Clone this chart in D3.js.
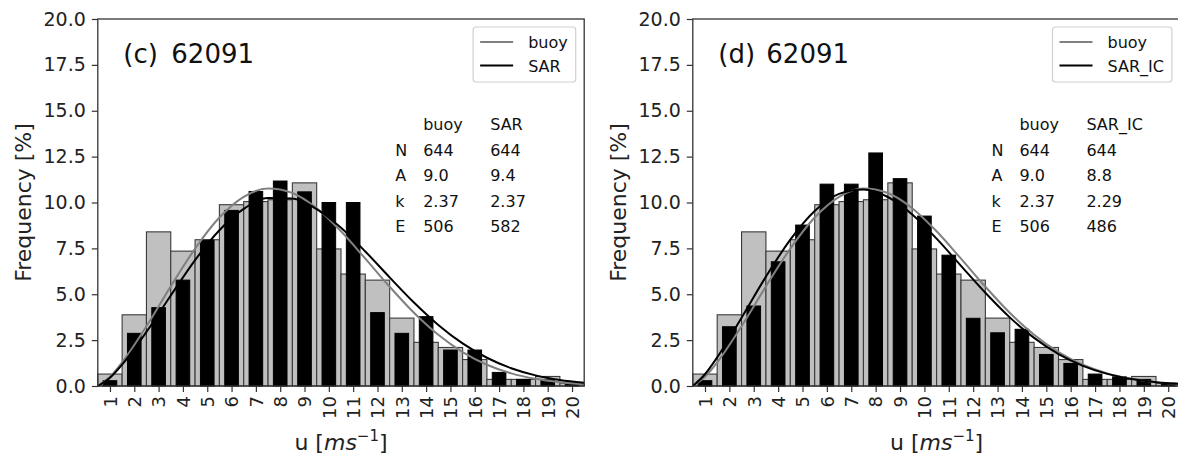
<!DOCTYPE html>
<html>
<head>
<meta charset="utf-8">
<script src="https://cdn.jsdelivr.net/npm/d3@7/dist/d3.min.js"></script>
<style>
    body { margin: 0; background: #fff; }
    svg { display: block; font-family: 'DejaVu Sans', sans-serif; }
</style>
</head>
<body>
<div id="chart"></div>
<script>
'use strict';
//bin labels on the x axis (bin k covers [k-1, k])
var binLabels = [1, 2, 3, 4, 5, 6, 7, 8, 9, 10, 11, 12, 13, 14, 15, 16, 17, 18, 19, 20];
var yTicks = [0, 2.5, 5, 7.5, 10, 12.5, 15, 17.5, 20];

//histogram frequencies [%]
var buoyPct = [0.65, 3.88, 8.4, 7.35, 7.97, 9.88, 10.05, 10.15, 11.07, 7.47, 6.1, 5.77, 3.7, 2.38, 2.1, 1.44, 0.36, 0.36, 0.52, 0.15];
var sarPct = [0.29, 2.87, 4.27, 5.77, 7.95, 9.57, 10.6, 11.17, 10.58, 10.0, 10.0, 4.0, 2.87, 3.78, 1.96, 1.96, 0.74, 0.36, 0.34, 0.15];
var sarIcPct = [0.29, 3.23, 4.36, 6.77, 8.77, 11.0, 11.0, 12.7, 11.3, 9.26, 7.13, 3.69, 2.9, 3.09, 1.72, 1.23, 0.65, 0.5, 0.36, 0.15];

//fitted curves
var fitX = [0, 0.5, 1, 2, 3, 4, 5, 6, 7, 8, 9, 10, 11, 12, 13, 14, 15, 16, 17, 18, 19, 20];
var buoyFit = [0, 0.50, 1.29, 3.26, 5.43, 7.49, 9.18, 10.31, 10.76, 10.52, 9.69, 8.43, 6.94, 5.41, 3.99, 2.79, 1.85, 1.16, 0.69, 0.39, 0.21, 0.10];
var sarFit = [0, 0.45, 1.17, 2.95, 4.93, 6.86, 8.49, 9.65, 10.24, 10.22, 9.64, 8.62, 7.33, 5.92, 4.55, 3.33, 2.32, 1.54, 0.97, 0.58, 0.33, 0.18];
var sarIcFit = [0, 0.64, 1.56, 3.72, 5.96, 7.98, 9.54, 10.47, 10.71, 10.30, 9.35, 8.03, 6.55, 5.08, 3.74, 2.62, 1.74, 1.10, 0.66, 0.38, 0.21, 0.11];

//statistics table
var statNames = ['N', 'A', 'k', 'E'];
var buoyStats = ['644', '9.0', '2.37', '506'];
var sarStats = ['644', '9.4', '2.37', '582'];
var sarIcStats = ['644', '8.8', '2.29', '486'];

var width = 1178,
    height = 459,
    svg = d3.select('#chart').append('svg')
        .attr('width', width)
        .attr('height', height);

var panels = [
    {left: 97.8, right: 584.2, tag: '(c)', name: 'SAR', pct: sarPct, fit: sarFit, stats: sarStats},
    {left: 692.8, right: 1180.4, tag: '(d)', name: 'SAR_IC', pct: sarIcPct, fit: sarIcFit, stats: sarIcStats}
];

var y = d3.scaleLinear().domain([0, 20]).range([386, 19]);

var drawPanel = function (p) {
    var x = d3.scaleLinear().domain([0, 20]).range([p.left, p.right]),
        g = svg.append('g'),
        line = d3.line()
            .x(function (d, i) { return x(fitX[i]); })
            .y(function (d) { return y(d); })
            .curve(d3.curveMonotoneX);

    //buoy bars, full bin width
    g.selectAll('.buoy')
        .data(buoyPct)
        .enter().append('rect')
        .attr('class', 'buoy')
        .attr('x', function (d, i) { return x(i); })
        .attr('width', function (d, i) { return x(i + 1) - x(i); })
        .attr('y', function (d) { return y(d); })
        .attr('height', function (d) { return y(0) - y(d); })
        .style('fill', '#c0c0c0')
        .style('stroke', '#3a3a3a')
        .style('stroke-width', 1.1);

    //SAR bars, narrower and centred in the bin
    g.selectAll('.sar')
        .data(p.pct)
        .enter().append('rect')
        .attr('class', 'sar')
        .attr('x', function (d, i) { return x(i + 0.22); })
        .attr('width', function (d, i) { return x(i + 0.78) - x(i + 0.22); })
        .attr('y', function (d) { return y(d); })
        .attr('height', function (d) { return y(0) - y(d); })
        .style('fill', '#000')
        .style('stroke', '#000')
        .style('stroke-width', 1);

    g.append('path').datum(buoyFit)
        .attr('d', line)
        .style('fill', 'none')
        .style('stroke', '#808080')
        .style('stroke-width', 2);
    g.append('path').datum(p.fit)
        .attr('d', line)
        .style('fill', 'none')
        .style('stroke', '#000')
        .style('stroke-width', 2);

    //frame
    g.append('rect')
        .attr('x', p.left).attr('y', y(20))
        .attr('width', p.right - p.left).attr('height', y(0) - y(20))
        .style('fill', 'none')
        .style('stroke', '#333')
        .style('stroke-width', 1.3);

    //y axis
    var yAxis = g.append('g')
        .attr('transform', 'translate(' + p.left + ',0)')
        .call(d3.axisLeft(y).tickValues(yTicks).tickSize(6).tickPadding(6)
            .tickFormat(d3.format('.1f')));
    yAxis.select('.domain').remove();
    yAxis.selectAll('line').style('stroke', '#333').style('stroke-width', 1.2);
    yAxis.selectAll('text')
        .style('font-size', '19px')
        .style('font-family', 'DejaVu Sans')
        .style('fill', '#222');

    //x axis, labels rotated
    var xAxis = g.append('g')
        .attr('transform', 'translate(0,' + y(0) + ')')
        .call(d3.axisBottom(x).tickValues(binLabels.map(function (b) { return b - 0.5; }))
            .tickSize(6)
            .tickFormat(function (d, i) { return binLabels[i]; }));
    xAxis.select('.domain').remove();
    xAxis.selectAll('line').style('stroke', '#333').style('stroke-width', 1.2);
    xAxis.selectAll('text')
        .attr('y', 0)
        .attr('dy', '0.35em')
        .attr('transform', 'translate(0,10) rotate(-90)')
        .attr('text-anchor', 'end')
        .style('font-size', '18px')
        .style('font-family', 'DejaVu Sans')
        .style('fill', '#222');

    //axis titles
    g.append('text')
        .attr('transform', 'translate(' + (p.left - 67) + ',' + ((y(0) + y(20)) / 2) + ') rotate(-90)')
        .attr('text-anchor', 'middle')
        .style('font-size', '22px')
        .style('fill', '#222')
        .text('Frequency [%]');

    var xt = g.append('text')
        .attr('x', (p.left + p.right) / 2)
        .attr('y', 450)
        .attr('text-anchor', 'middle')
        .style('font-size', '22px')
        .style('fill', '#222');
    xt.append('tspan').text('u [');
    xt.append('tspan').style('font-style', 'italic').text('ms');
    xt.append('tspan').attr('dy', -9).style('font-size', '15px').text('\u22121');
    xt.append('tspan').attr('dy', 9).text(']');

    //panel title
    g.append('text')
        .attr('x', p.left + 25.5).attr('y', 63)
        .style('font-size', '26px').style('fill', '#111')
        .text(p.tag);
    g.append('text')
        .attr('x', p.left + 73.5).attr('y', 63)
        .style('font-size', '26px').style('fill', '#111')
        .text('62091');

    //legend
    var lg = g.append('g'),
        box = lg.append('rect'),
        names = ['buoy', p.name],
        colors = ['#808080', '#000'],
        maxW = 0;
    names.forEach(function (n, i) {
        var t = lg.append('text')
            .attr('x', 0).attr('y', 48 + i * 24)
            .style('font-size', '16px').style('fill', '#111')
            .text(n);
        maxW = Math.max(maxW, t.node().getComputedTextLength());
    });
    var boxRight = p.right - 8.5,
        boxLeft = boxRight - maxW - 63;
    lg.selectAll('text').attr('x', boxLeft + 55);
    names.forEach(function (n, i) {
        lg.append('line')
            .attr('x1', boxLeft + 7).attr('x2', boxLeft + 40)
            .attr('y1', 42 + i * 23.5).attr('y2', 42 + i * 23.5)
            .style('stroke', colors[i])
            .style('stroke-width', 2);
    });
    box.attr('x', boxLeft).attr('y', 27)
        .attr('width', boxRight - boxLeft).attr('height', 55)
        .attr('rx', 3)
        .style('fill', '#fff').style('fill-opacity', 0.8)
        .style('stroke', '#d0d0d0').style('stroke-width', 1.2);

    //stats table
    var tb = g.append('g').style('font-size', '16px').style('fill', '#111');
    tb.append('text').attr('x', p.right - 161).attr('y', 130).text('buoy');
    tb.append('text').attr('x', p.right - 94).attr('y', 130).text(p.name);
    statNames.forEach(function (s, i) {
        var yy = 155.5 + i * 25.5;
        tb.append('text').attr('x', p.right - 189).attr('y', yy).text(s);
        tb.append('text').attr('x', p.right - 161).attr('y', yy).text(buoyStats[i]);
        tb.append('text').attr('x', p.right - 94).attr('y', yy).text(p.stats[i]);
    });
};

panels.forEach(drawPanel);
</script>
</body>
</html>
